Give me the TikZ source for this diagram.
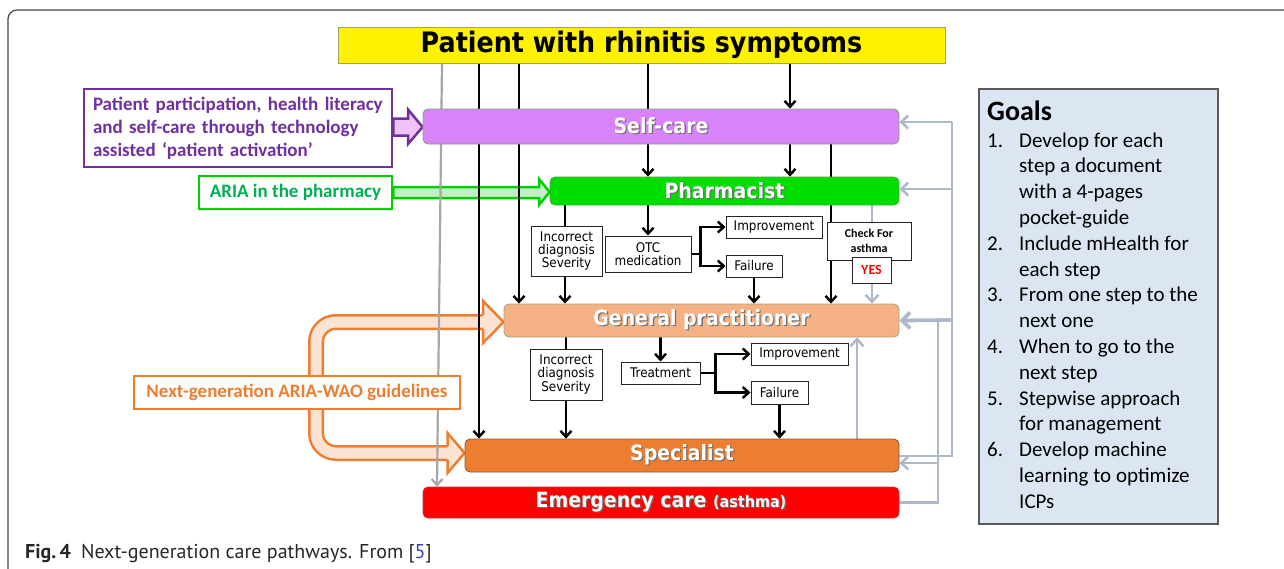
\documentclass[tikz,border=0pt]{standalone}
\usepackage{fontspec}
\setmainfont{Carlito}
\newfontfamily\tah[FakeStretch=0.9]{DejaVu Sans}
\newfontfamily\capf{PT Sans}
\usetikzlibrary{arrows.meta,calc}
\definecolor{gbc}{HTML}{ADB9CA}
\definecolor{grl}{HTML}{A6A6A6}
\definecolor{purc}{HTML}{7030A0}
\definecolor{pinkc}{HTML}{EFC3F8}
\definecolor{gbord}{HTML}{00D000}
\definecolor{gtext}{HTML}{00B050}
\definecolor{lgreen}{HTML}{C2F0C2}
\definecolor{orc}{HTML}{ED7D31}
\definecolor{peach}{HTML}{FBE3D3}
\definecolor{goalfill}{HTML}{DCE6F2}
\definecolor{goaldraw}{HTML}{595959}
\definecolor{ydraw}{HTML}{9E9E6E}
\definecolor{scfill}{HTML}{D883FA}
\definecolor{scdraw}{HTML}{7FA56E}
\definecolor{phfill}{HTML}{00DD00}
\definecolor{phdraw}{HTML}{3DAA3D}
\definecolor{gpfill}{HTML}{F4B183}
\definecolor{gpdraw}{HTML}{A8A080}
\definecolor{spfill}{HTML}{ED7D31}
\definecolor{spdraw}{HTML}{8A5A35}
\definecolor{emfill}{HTML}{FF0000}
\definecolor{emdraw}{HTML}{D03030}
\definecolor{framec}{HTML}{444444}
\definecolor{linkblue}{HTML}{3344CC}
\definecolor{shadowc}{HTML}{707070}
\newcommand\shd[1]{\leavevmode\rlap{\kern1.3pt\raisebox{-1.3pt}{\color{shadowc}#1}}#1}
\pgfdeclarelayer{back}\pgfdeclarelayer{mid}\pgfsetlayers{back,mid,main}
\tikzset{
  x=1pt,y=-1pt,
  mainbox/.style={draw, line width=0.8pt, rounded corners=5pt, inner sep=0pt, text=white,
    font=\tah\bfseries\fontsize{21}{24}\selectfont},
  smallbox/.style={draw=black!85, fill=white, line width=1pt, inner sep=0pt, align=center,
    font=\tah\fontsize{13.3}{13.3}\selectfont},
  labbox/.style={fill=white, line width=2.5pt, inner sep=0pt, font=\bfseries\fontsize{19}{23}\selectfont},
  bl/.style={line width=2.4pt, black, -{Straight Barb[length=6pt,width=11pt]}},
  bll/.style={line width=2.4pt, black},
  gb/.style={line width=2.5pt, gbc},
  gba/.style={gb, -{Straight Barb[length=7pt,width=13pt]}},
  gbt/.style={line width=3.8pt, gbc, -{Straight Barb[length=8pt,width=16pt]}},
  gl/.style={line width=2.2pt, grl, -{Straight Barb[length=6pt,width=11pt]}},
}
\begin{document}
\begin{tikzpicture}
\useasboundingbox (0,0) rectangle (1284,568);
\draw[framec, line width=1.2pt, rounded corners=9pt] (8,590) -- (8,10) -- (1300,10);

% main boxes
\node[draw=ydraw, fill=yellow, line width=1pt, minimum width=607, minimum height=36, inner sep=0pt,
  font=\tah\bfseries\fontsize{28.2}{30}\selectfont] (pt) at (641.5,45) {Patient with rhinitis symptoms};
\node[mainbox, fill=scfill, draw=scdraw, minimum width=476, minimum height=35] (sc) at (661,126.5) {\shd{Self-care}};
\node[mainbox, fill=phfill, draw=phdraw, minimum width=349, minimum height=28] (ph) at (724.5,191) {\shd{Pharmacist}};
\node[mainbox, fill=gpfill, draw=gpdraw, minimum width=395, minimum height=33] (gp) at (701.5,320.5) {\shd{General practitioner}};
\node[mainbox, fill=spfill, draw=spdraw, minimum width=434, minimum height=33] (sp) at (682,455.5) {\shd{Specialist}};
\node[mainbox, fill=emfill, draw=emdraw, minimum width=476, minimum height=31] (em) at (661,502.5)
  {\shd{Emergency care {\fontsize{16}{18}\selectfont(asthma)}}};

% label boxes
\node[labbox, draw=purc, text=purc, minimum width=308, minimum height=78, text width=290, align=left] (pp) at (238,128)
  {Patient participation, health literacy\\and self-care through technology\\assisted ‘patient activation’};
\node[labbox, draw=gbord, text=gtext, minimum width=193, minimum height=33] (aria) at (295.5,192.5) {ARIA in the pharmacy};
\node[labbox, draw=orc, text=orc, minimum width=326, minimum height=33] (ngl) at (297,392.5) {Next-generation ARIA-WAO guidelines};

% small boxes
\node[smallbox, minimum width=71, minimum height=50] (inc1) at (566.5,251) {Incorrect\\diagnosis\\Severity};
\node[smallbox, minimum width=86, minimum height=36] (otc) at (648,254) {OTC\\medication};
\node[smallbox, minimum width=96, minimum height=22] (imp1) at (774,227) {Improvement};
\node[smallbox, minimum width=56, minimum height=22] (fail1) at (754,266) {Failure};
\node[smallbox, minimum width=84, minimum height=38, font=\bfseries\fontsize{12}{15}\selectfont] (chk) at (869,241) {Check For\\asthma};
\node[smallbox, minimum width=39, minimum height=26, text=red, font=\bfseries\fontsize{14}{16}\selectfont] (yes) at (871.5,270) {YES};
\node[smallbox, minimum width=72, minimum height=51] (inc2) at (566,374.5) {Incorrect\\diagnosis\\Severity};
\node[smallbox, minimum width=79, minimum height=22] (trt) at (660.5,373) {Treatment};
\node[smallbox, minimum width=97, minimum height=22] (imp2) at (799.5,354) {Improvement};
\node[smallbox, minimum width=57, minimum height=23] (fail2) at (779.5,392.5) {Failure};

% goals
\node[draw=goaldraw, fill=goalfill, line width=1.2pt, minimum width=239, minimum height=435, inner sep=0pt] (goals) at (1098.5,306.5) {};
\node[anchor=base west, inner sep=0pt, font=\bfseries\fontsize{28}{30}\selectfont] (gtitle) at (987,120) {Goals};
\node[anchor=base west, inner sep=0pt, font=\fontsize{21}{25.8}\selectfont] (glist) at (987,147) {%
\begin{tabular}[t]{@{}l@{}l@{}}
\makebox[32pt][l]{1.}&Develop for each\\
&step a document\\
&with a 4-pages\\
&pocket-guide\\
\makebox[32pt][l]{2.}&Include mHealth for\\
&each step\\
\makebox[32pt][l]{3.}&From one step to the\\
&next one\\
\makebox[32pt][l]{4.}&When to go to the\\
&next step\\
\makebox[32pt][l]{5.}&Stepwise approach\\
&for management\\
\makebox[32pt][l]{6.}&Develop machine\\
&learning to optimize\\
&ICPs
\end{tabular}};

% caption
\node[anchor=base west, inner sep=0pt, font=\capf\fontsize{20}{22}\selectfont, text=black!85] (cap) at (25,558)
  {\textbf{Fig.\,4}\hspace{10pt}Next-generation care pathways. From [{\color{linkblue}5}]};

% block arrows
\begin{pgfonlayer}{back}
\draw[fill=pinkc, draw=purc, line width=2.5pt, line join=miter]
  (pp.east |- 0,118.5) -- (408,118.5) -- (408,109.5) -- (sc.west |- 0,127) -- (408,144) -- (408,135.5) -- (pp.east |- 0,135.5) -- cycle;
\draw[fill=lgreen, draw=gbord, line width=2.5pt, line join=miter]
  (aria.east |- 0,187) -- (539,187) -- (539,179) -- (ph.west |- 0,192) -- (539,205) -- (539,198) -- (aria.east |- 0,198) -- cycle;
\draw[line width=16pt, orc, rounded corners=20pt] (483,322) -- (316,322) -- (316,453) -- (448,453);
\draw[line width=11pt, peach, rounded corners=20pt] (483,322) -- (316,322) -- (316,453) -- (448,453);
\fill[peach] (483,301) -- (gp.west |- 0,322) -- (483,343) -- cycle;
\draw[orc, line width=2.5pt, line join=miter] (483,315.2) -- (483,301) -- (gp.west |- 0,322) -- (483,343) -- (483,328.8);
\fill[peach] (447.5,433) -- (sp.west |- 0,453) -- (447.5,473) -- cycle;
\draw[orc, line width=2.5pt, line join=miter] (447.5,446.2) -- (447.5,433) -- (sp.west |- 0,453) -- (447.5,473) -- (447.5,459.8);
\end{pgfonlayer}

% connectors
\begin{pgfonlayer}{mid}
\draw[gl] (442,0 |- pt.south) -- (437,0 |- em.north);
\draw[bl] (479,0 |- pt.south) -- (479,0 |- sp.north);
\draw[bl] (519,0 |- pt.south) -- (519,0 |- gp.north);
\draw[bll] (648,0 |- pt.south) -- (648,0 |- sc.north);
\draw[bl] (648,0 |- sc.south) -- (648,0 |- ph.north);
\draw[bl] (otc.north |- ph.south) -- (otc.north);
\draw[bl] (790,0 |- pt.south) -- (790,0 |- sc.north);
\draw[bl] (790,0 |- sc.south) -- (790,0 |- ph.north);
\draw[bl] (831,0 |- sc.south) -- (831,0 |- gp.north);
\draw[bll] (565,0 |- ph.south) -- (565,0 |- inc1.north);
\draw[bl] (565,0 |- inc1.south) -- (565,0 |- gp.north);
\draw[bl] (otc.east) -- ++(9,0) |- (imp1.west);
\draw[bl] (otc.east) -- ++(9,0) |- (fail1.west);
\draw[bl] (fail1.south) -- (fail1.south |- gp.north);
\draw[gb] (872,0 |- ph.south) -- (872,0 |- chk.north);
\draw[gba] (872,0 |- yes.south) -- (872,0 |- gp.north);
\draw[bll] (566,0 |- gp.south) -- (566,0 |- inc2.north);
\draw[bl] (566,0 |- inc2.south) -- (566,0 |- sp.north);
\draw[bl] (trt.north |- gp.south) -- (trt.north);
\draw[bl] (trt.east) -- ++(15,0) |- (imp2.west);
\draw[bl] (trt.east) -- ++(15,0) |- (fail2.west);
\draw[bl] (fail2.south) -- (fail2.south |- sp.north);
\draw[gba] (857,0 |- sp.north) -- (857,0 |- gp.south);
\draw[gb] (sp.east |- 0,456) -- (952,456) -- (952,122);
\draw[gba] (952,122) -- (sc.east |- 0,122);
\draw[gba] (952,189) -- (ph.east |- 0,189);
\draw[gbt] (952,320) -- (gp.east);
\draw[gb] (em.east) -- (938,0 |- em.east) -- (938,320);
\draw[gba] (938,463) -- (sp.east |- 0,463);
\end{pgfonlayer}
\end{tikzpicture}
\end{document}
